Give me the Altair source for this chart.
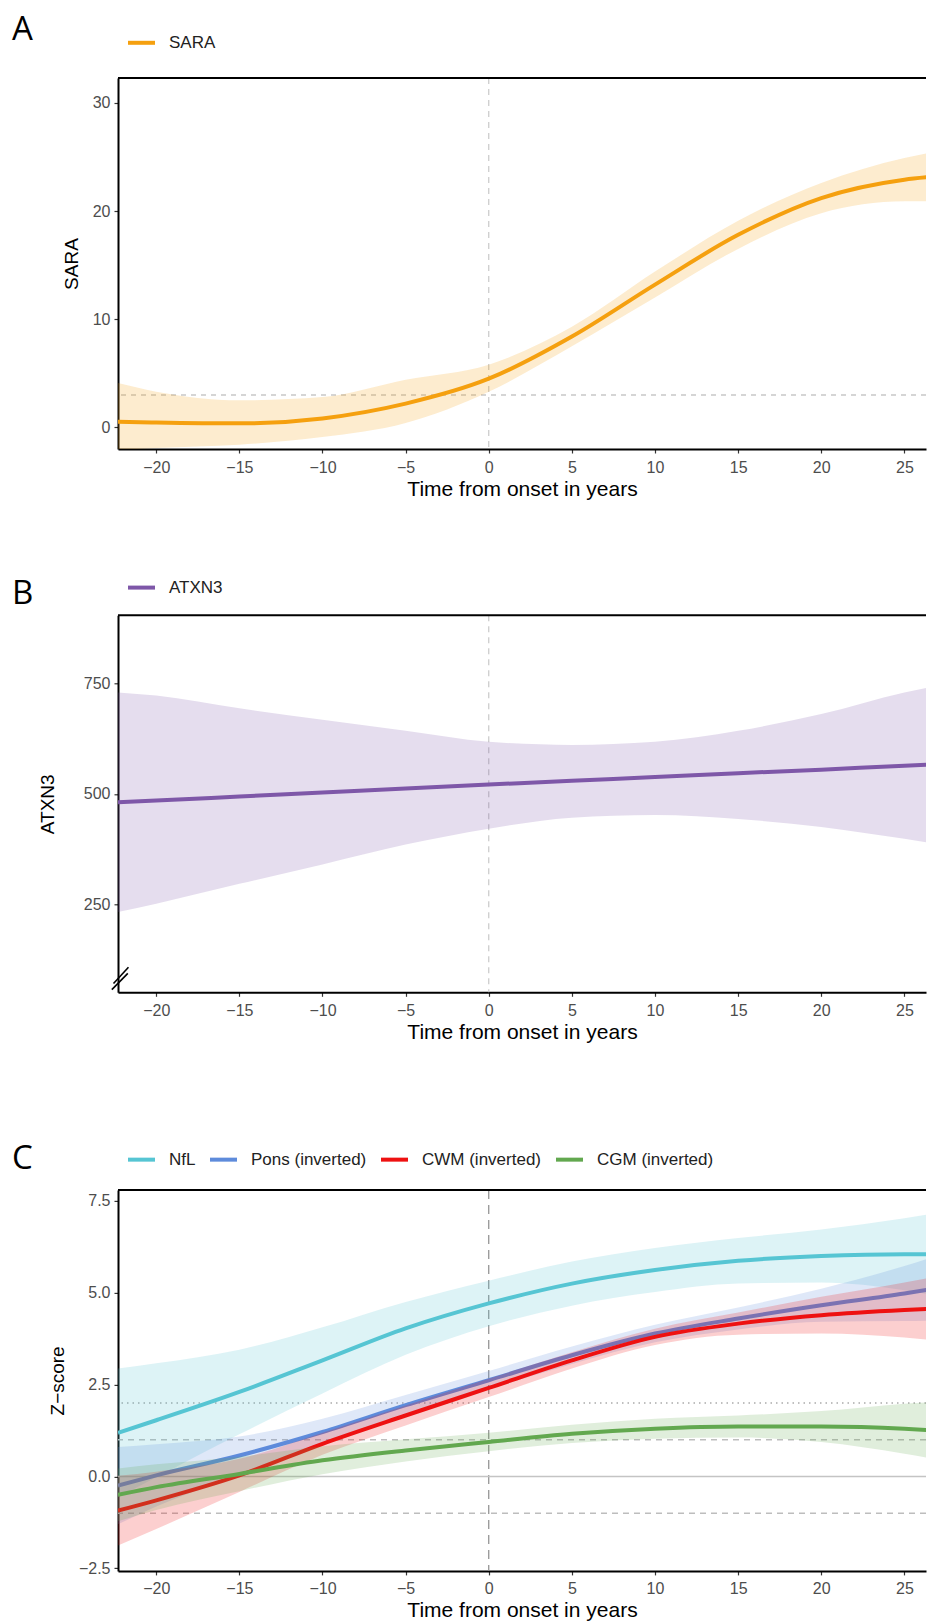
import altair as alt
import pandas as pd

# ---------------- data ----------------
years = [-22.3, -20, -15, -10, -5, 0, 5, 10, 15, 20, 25, 26.9]

sara_mean = [0.52, 0.45, 0.37, 0.83, 2.2, 4.5, 8.4, 13.2, 17.8, 21.2, 22.9, 23.2]
sara_lo = [-2.1, -1.9, -1.6, -0.9, 0.4, 3.3, 7.5, 12.0, 16.5, 19.8, 20.9, 20.9]
sara_hi = [4.1, 3.3, 2.5, 2.8, 4.4, 5.8, 9.3, 14.4, 19.1, 22.6, 24.9, 25.5]

atxn3_mean = [481, 485, 494, 503, 512, 521, 530, 538, 547, 555, 564, 567]
atxn3_lo = [232, 251, 296, 340, 385, 421, 446, 452, 443, 425, 398, 387]
atxn3_hi = [730, 723, 694, 668, 643, 618, 611, 618, 643, 681, 730, 745]

nfl_mean = [1.19, 1.53, 2.30, 3.16, 4.03, 4.71, 5.25, 5.62, 5.87, 6.00, 6.05, 6.05]
nfl_lo = [-0.56, -0.02, 1.15, 2.26, 3.31, 4.09, 4.65, 5.02, 5.25, 5.28, 5.07, 4.93]
nfl_hi = [2.94, 3.08, 3.45, 4.06, 4.75, 5.33, 5.85, 6.22, 6.49, 6.72, 7.03, 7.17]

pons_mean = [-0.25, 0.03, 0.57, 1.21, 1.94, 2.62, 3.30, 3.89, 4.30, 4.66, 4.98, 5.12]
pons_lo = [-1.30, -0.82, 0.05, 0.85, 1.66, 2.37, 3.06, 3.65, 4.00, 4.21, 4.23, 4.24]
pons_hi = [0.80, 0.88, 1.09, 1.57, 2.22, 2.87, 3.54, 4.13, 4.60, 5.11, 5.73, 6.00]

cwm_mean = [-0.93, -0.65, 0.03, 0.89, 1.66, 2.41, 3.16, 3.80, 4.16, 4.39, 4.53, 4.57]
cwm_lo = [-1.88, -1.43, -0.42, 0.59, 1.39, 2.16, 2.94, 3.58, 3.86, 3.89, 3.78, 3.70]
cwm_hi = [0.02, 0.13, 0.48, 1.19, 1.93, 2.66, 3.38, 4.02, 4.46, 4.89, 5.28, 5.44]

cgm_mean = [-0.50, -0.29, 0.07, 0.44, 0.71, 0.94, 1.16, 1.30, 1.36, 1.36, 1.30, 1.25]
cgm_lo = [-1.22, -0.91, -0.40, 0.06, 0.41, 0.69, 0.91, 1.03, 1.06, 0.94, 0.62, 0.47]
cgm_hi = [0.22, 0.33, 0.54, 0.82, 1.01, 1.19, 1.41, 1.57, 1.66, 1.78, 1.98, 2.03]

x_ticks = [-20, -15, -10, -5, 0, 5, 10, 15, 20, 25]
x_domain = [-22.3, 26.3]

sara_ticks = [0, 10, 20, 30]
atxn3_ticks = [250, 500, 750]
z_ticks = [-2.5, 0.0, 2.5, 5.0, 7.5]

z_names = ["NfL", "Pons (inverted)", "CWM (inverted)", "CGM (inverted)"]
z_colors = ["#56C5D3", "#5E8BDB", "#EE1111", "#62A84F"]

# break marks on the ATXN3 axis (data units)
brk_x = [-22.67, -22.57]
brk_x2 = [-21.71, -21.67]
brk_y = [56, 70]
brk_y2 = [93, 107]

W = 808
FONT = "Liberation Sans"


def xs():
    return alt.Scale(domain=x_domain, nice=False, zero=False)


def series_df(name, mean, lo, hi):
    return pd.DataFrame({"year": years, "mean": mean, "lo": lo, "hi": hi, "series": name})


def xenc():
    return alt.X(
        "year:Q", scale=xs(),
        axis=alt.Axis(values=x_ticks, title="Time from onset in years", format="d"),
    )


def legend(ly):
    return alt.Legend(
        orient="none", legendX=8, legendY=ly, direction="horizontal", title=None,
        symbolType="stroke", symbolStrokeWidth=4, symbolSize=729,
        labelFontSize=17, labelFont=FONT, labelColor="#222222", labelOffset=12,
        columnPadding=6, padding=0,
    )


def series_layers(df, color, names, colors, ydom, ly):
    yscale = alt.Scale(domain=ydom, nice=False, zero=False)
    area = alt.Chart(df).mark_area(
        opacity=0.2, color=color, interpolate="monotone", clip=True
    ).encode(x=xenc(), y=alt.Y("lo:Q", scale=yscale), y2="hi:Q")
    line = alt.Chart(df).mark_line(
        strokeWidth=4, interpolate="monotone", clip=True
    ).encode(
        x=xenc(), y=alt.Y("mean:Q", scale=yscale),
        color=alt.Color("series:N", scale=alt.Scale(domain=names, range=colors), legend=legend(ly)),
    )
    return [area, line]


def hrule(val, color, dash, width, ydom):
    d = pd.DataFrame({"v": [val]})
    kw = dict(color=color, strokeWidth=width)
    if dash:
        kw["strokeDash"] = dash
    return alt.Chart(d).mark_rule(**kw).encode(
        y=alt.Y("v:Q", scale=alt.Scale(domain=ydom, nice=False, zero=False))
    )


def vrule(color, dash, width):
    d = pd.DataFrame({"v": [0]})
    return alt.Chart(d).mark_rule(color=color, strokeDash=dash, strokeWidth=width).encode(
        x=alt.X("v:Q", scale=xs())
    )


def top_border(ydom):
    d = pd.DataFrame({"a": [x_domain[0]], "b": [x_domain[1]], "y": [ydom[1]]})
    return alt.Chart(d).mark_rule(color="black", strokeWidth=2).encode(
        x=alt.X("a:Q", scale=xs()),
        x2="b:Q",
        y=alt.Y("y:Q", scale=alt.Scale(domain=ydom, nice=False, zero=False)),
    )


def yaxis_layer(vals, ydom, ticks, fmt, ttl, tpad):
    d = pd.DataFrame({"year": years, "v": vals})
    return alt.Chart(d).mark_point(opacity=0, clip=True).encode(
        x=xenc(),
        y=alt.Y("v:Q", scale=alt.Scale(domain=ydom, nice=False, zero=False),
                axis=alt.Axis(values=ticks, format=fmt, title=ttl, titlePadding=tpad)),
    )


def title(letter, dy):
    return alt.TitleParams(
        text=letter, anchor="start", frame="group", dx=-106, dy=dy, offset=0,
        fontSize=33, font="Open Sans", fontWeight="normal", color="black",
    )


# ---------------- Panel A ----------------
sara_dom = [-2.0, 32.3]
sara_df = series_df("SARA", sara_mean, sara_lo, sara_hi)
layers_a = [
    vrule("#C8C8C8", [6, 5], 1.2),
    hrule(3, "#C8C8C8", [5, 5], 1.5, sara_dom),
] + series_layers(sara_df, "#F5A00F", ["SARA"], ["#F5A00F"], sara_dom, -50.7) + [
    top_border(sara_dom),
    yaxis_layer(sara_mean, sara_dom, sara_ticks, "d", "SARA", 11),
]
panel_a = alt.layer(*layers_a).properties(width=W, height=371, title=title("A", 19.6))

# ---------------- Panel B ----------------
atxn_dom = [50, 905]
atxn_df = series_df("ATXN3", atxn3_mean, atxn3_lo, atxn3_hi)
brk = pd.DataFrame({"x": brk_x, "x2": brk_x2, "y": brk_y, "y2": brk_y2})
layers_b = [vrule("#C8C8C8", [6, 5], 1.2)] + series_layers(
    atxn_df, "#7E57A8", ["ATXN3"], ["#7E57A8"], atxn_dom, -43.2
) + [
    top_border(atxn_dom),
    yaxis_layer(atxn3_mean, atxn_dom, atxn3_ticks, "d", "ATXN3", 26),
    alt.Chart(brk).mark_rule(color="black", strokeWidth=1.6, clip=False).encode(
        x=alt.X("x:Q", scale=xs()),
        x2="x2:Q",
        y=alt.Y("y:Q", scale=alt.Scale(domain=atxn_dom, nice=False, zero=False)),
        y2="y2:Q",
    ),
]
panel_b = alt.layer(*layers_b).properties(width=W, height=377, title=title("B", 39.1))

# ---------------- Panel C ----------------
z_dom = [-2.57, 7.8]
z_sets = [
    ("NfL", nfl_mean, nfl_lo, nfl_hi),
    ("Pons (inverted)", pons_mean, pons_lo, pons_hi),
    ("CWM (inverted)", cwm_mean, cwm_lo, cwm_hi),
    ("CGM (inverted)", cgm_mean, cgm_lo, cgm_hi),
]
layers_c = [
    vrule("#8C8C8C", [9, 6], 1.2),
    hrule(2, "#AAAAAA", [1.5, 4], 1.5, z_dom),
    hrule(1, "#BDBDBD", [6, 5], 1.5, z_dom),
    hrule(-1, "#BDBDBD", [6, 5], 1.5, z_dom),
    hrule(0, "#C4C4C4", None, 1.5, z_dom),
]
for (nm, m, lo, hi), col in zip(z_sets, z_colors):
    layers_c += series_layers(series_df(nm, m, lo, hi), col, z_names, z_colors, z_dom, -46)
layers_c += [
    top_border(z_dom),
    yaxis_layer(nfl_mean, z_dom, z_ticks, ".1f", "Z\u2212score", 11),
]
panel_c = alt.layer(*layers_c).properties(width=W, height=381, title=title("C", 32))

chart = alt.vconcat(
    alt.vconcat(panel_a, panel_b, spacing=72.3).resolve_scale(color="independent"),
    panel_c,
    spacing=99.9,
).resolve_scale(
    color="independent"
).properties(
    padding={"left": 4, "top": 5, "right": 0, "bottom": 0}
).configure_view(stroke=None).configure_axis(
    grid=False,
    domainColor="black", domainWidth=2,
    tickColor="#333333", tickSize=4, tickWidth=1.2,
    labelFont=FONT, labelFontSize=16, labelColor="#4D4D4D", labelPadding=4,
    titleFont=FONT, titleFontWeight="normal", titleColor="black",
).configure_axisX(
    titleFontSize=21, titlePadding=3, labelPadding=6,
).configure_axisY(
    titleFontSize=19,
).configure_legend(
    symbolOpacity=1,
)

chart.save("out.html", embed_options={"renderer": "svg", "actions": False})
